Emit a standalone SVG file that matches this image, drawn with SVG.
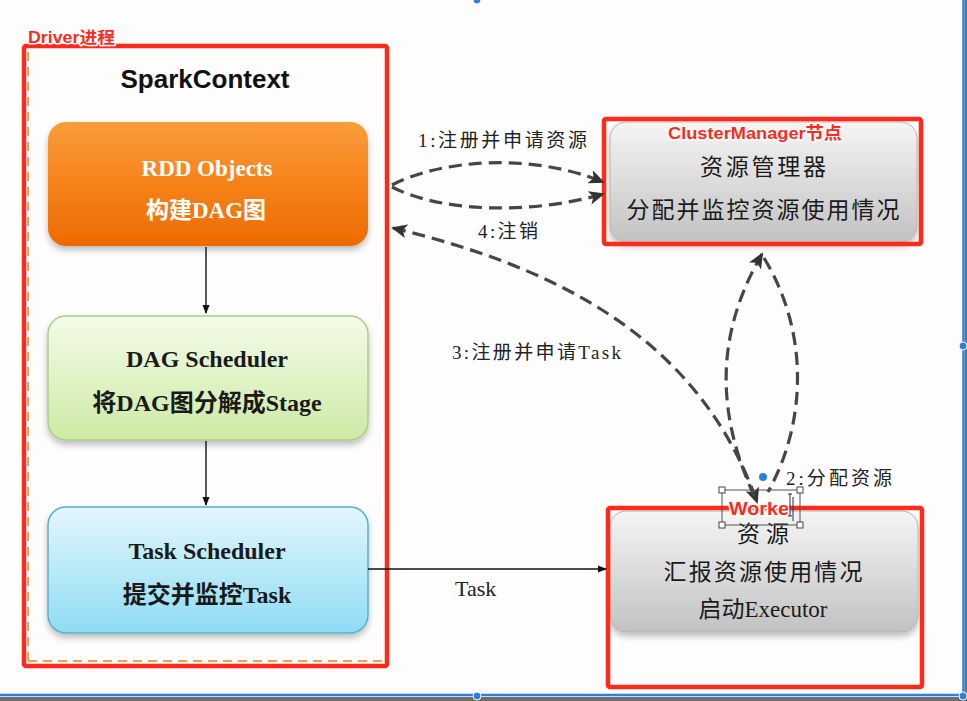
<svg xmlns="http://www.w3.org/2000/svg" width="967" height="701" viewBox="0 0 967 701">
<defs>
<style>
.cn{font-family:"Liberation Serif","Noto Sans CJK SC",serif;fill:#1a1a1a}
.bold{font-weight:bold}
.red{font-family:"Liberation Sans","Noto Sans CJK SC",sans-serif;font-weight:bold;fill:#ff2a1a;stroke:#fff;stroke-width:3;paint-order:stroke;stroke-linejoin:round}
.redbox{fill:none;stroke:#ff2a1a;stroke-width:4.5}
.dash{fill:none;stroke:#464646;stroke-width:3.2;stroke-dasharray:13 7}
.solid{fill:none;stroke:#111;stroke-width:1.4}
.lbl{font-family:"Liberation Serif","Noto Sans CJK SC",serif;font-size:19px;fill:#222}
</style>
<linearGradient id="gOrange" x1="0" y1="0" x2="0" y2="1">
<stop offset="0" stop-color="#fb9d3c"/><stop offset="0.5" stop-color="#f6821a"/><stop offset="1" stop-color="#ee6a00"/>
</linearGradient>
<linearGradient id="gGreen" x1="0" y1="0" x2="0" y2="1">
<stop offset="0" stop-color="#f4fbea"/><stop offset="1" stop-color="#cdeaa4"/>
</linearGradient>
<linearGradient id="gBlue" x1="0" y1="0" x2="0" y2="1">
<stop offset="0" stop-color="#e4f6fc"/><stop offset="1" stop-color="#8edcf4"/>
</linearGradient>
<linearGradient id="gGray" x1="0" y1="0" x2="0" y2="1">
<stop offset="0" stop-color="#f5f5f5"/><stop offset="1" stop-color="#c2c2c2"/>
</linearGradient>
<filter id="shadow" x="-10%" y="-10%" width="120%" height="130%">
<feDropShadow dx="0" dy="4" stdDeviation="3" flood-color="#000" flood-opacity="0.25"/>
</filter>
<marker id="bigArrow" viewBox="0 0 16 14" refX="14" refY="7" markerWidth="16" markerHeight="14" markerUnits="userSpaceOnUse" orient="auto-start-reverse">
<path d="M0,0 L16,7 L0,14 L4,7 Z" fill="#333"/>
</marker>
<marker id="smallArrow" viewBox="0 0 10 10" refX="9" refY="5" markerWidth="9" markerHeight="9" markerUnits="userSpaceOnUse" orient="auto">
<path d="M0,1 L10,5 L0,9 Z" fill="#111"/>
</marker>
</defs>

<rect x="0" y="0" width="967" height="701" fill="#fdfdfd"/>

<!-- Driver process -->
<g id="driver">
<line x1="28" y1="52" x2="28" y2="661" stroke="#f0a050" stroke-width="2" stroke-dasharray="9 6"/>
<line x1="28" y1="661" x2="384" y2="661" stroke="#f0a050" stroke-width="2" stroke-dasharray="9 6"/>
<rect class="redbox" x="24" y="46" width="363" height="620" rx="2"/>
<text class="red" x="28" y="43" font-size="16" textLength="87" lengthAdjust="spacingAndGlyphs">Driver进程</text>
<text x="205" y="88" text-anchor="middle" font-family="Liberation Sans, Arial, sans-serif" font-weight="bold" font-size="26" fill="#111">SparkContext</text>
</g>

<g id="rdd">
<rect x="48" y="122" width="320" height="124" rx="18" fill="url(#gOrange)" filter="url(#shadow)"/>
<text class="cn bold" x="207" y="176" text-anchor="middle" font-size="23" fill="#fff" style="fill:#fff">RDD Objects</text>
<text class="cn bold" x="206" y="218" text-anchor="middle" font-size="23" style="fill:#fff">构建DAG图</text>
</g>

<g id="dagScheduler">
<rect x="48" y="316" width="320" height="124" rx="18" fill="url(#gGreen)" stroke="#a8cf86" stroke-width="1.5" filter="url(#shadow)"/>
<text class="cn bold" x="207" y="367" text-anchor="middle" font-size="24">DAG Scheduler</text>
<text class="cn bold" x="207" y="411" text-anchor="middle" font-size="24">将DAG图分解成Stage</text>
</g>

<g id="taskScheduler">
<rect x="48" y="507" width="320" height="126" rx="18" fill="url(#gBlue)" stroke="#5aaec8" stroke-width="1.5" filter="url(#shadow)"/>
<text class="cn bold" x="207" y="559" text-anchor="middle" font-size="24">Task Scheduler</text>
<text class="cn bold" x="207" y="603" text-anchor="middle" font-size="24">提交并监控Task</text>
</g>

<g id="clusterManager">
<rect x="610" y="122" width="307" height="120" rx="16" fill="url(#gGray)" stroke="#b5b5b5" stroke-width="1" filter="url(#shadow)"/>
<rect class="redbox" x="604" y="119" width="317" height="125" rx="2"/>
<text class="red" x="668" y="139" font-size="17" textLength="174" lengthAdjust="spacingAndGlyphs">ClusterManager节点</text>
<text class="cn" x="763" y="175" text-anchor="middle" font-size="23" textLength="126" lengthAdjust="spacing">资源管理器</text>
<text class="cn" x="763" y="218" text-anchor="middle" font-size="23" textLength="273" lengthAdjust="spacing">分配并监控资源使用情况</text>
</g>

<g id="worker">
<rect x="610" y="511" width="308" height="121" rx="16" fill="url(#gGray)" stroke="#b5b5b5" stroke-width="1" filter="url(#shadow)"/>
<rect class="redbox" x="608" y="508" width="314" height="179" rx="2"/>
<text class="cn" x="763" y="542" text-anchor="middle" font-size="23" textLength="52" lengthAdjust="spacing">资源</text>
<text class="cn" x="763" y="580" text-anchor="middle" font-size="23" textLength="199" lengthAdjust="spacing">汇报资源使用情况</text>
<text class="cn" x="763" y="617" text-anchor="middle" font-size="23">启动Executor</text>
<rect x="722" y="490" width="78" height="35" fill="none" stroke="#555" stroke-width="1"/>
<text class="red" x="729" y="515" font-size="18" textLength="60" lengthAdjust="spacingAndGlyphs">Worke</text>
<rect x="719" y="487" width="6" height="6" fill="#fff" stroke="#444" stroke-width="1"/>
<rect x="797" y="487" width="6" height="6" fill="#fff" stroke="#444" stroke-width="1"/>
<rect x="719" y="522" width="6" height="6" fill="#fff" stroke="#444" stroke-width="1"/>
<rect x="797" y="522" width="6" height="6" fill="#fff" stroke="#444" stroke-width="1"/>
<path d="M788,494 h4 M790,494 v22 M788,516 h4 M793,497 v24" stroke="#333" stroke-width="1" fill="none"/>
</g>

<g id="connectors">
<line class="solid" x1="206" y1="247" x2="206" y2="313" marker-end="url(#smallArrow)"/>
<line class="solid" x1="206" y1="441" x2="206" y2="505" marker-end="url(#smallArrow)"/>
<line class="solid" x1="368" y1="569" x2="606" y2="569" marker-end="url(#smallArrow)"/>
<path class="dash" d="M392,185 C440,160 530,152 603,182" marker-end="url(#bigArrow)"/>
<path class="dash" d="M392,187 C440,212 530,215 603,194" marker-end="url(#bigArrow)"/>
<path class="dash" d="M393,228 C560,268 700,340 757,502" marker-start="url(#bigArrow)" marker-end="url(#bigArrow)"/>
<path class="dash" d="M762,254 C712,340 718,420 757,502" marker-start="url(#bigArrow)"/>
<path class="dash" d="M764,258 C808,330 808,420 768,492"/>
</g>

<g id="labels">
<text class="lbl" x="418" y="147" textLength="169" lengthAdjust="spacing">1:注册并申请资源</text>
<text class="lbl" x="478" y="238" textLength="60" lengthAdjust="spacing">4:注销</text>
<text class="lbl" x="452" y="359" textLength="169" lengthAdjust="spacing">3:注册并申请Task</text>
<text class="lbl" x="786" y="485" textLength="106" lengthAdjust="spacing">2:分配资源</text>
<text class="lbl" x="455" y="596" font-size="22" style="font-size:22px">Task</text>
</g>

<g id="selection">
<line x1="0" y1="695" x2="964" y2="695" stroke="#2f7fe0" stroke-width="2.5"/>
<rect x="0" y="697" width="967" height="4" fill="#6e6e6e"/>
<line x1="963.5" y1="0" x2="963.5" y2="696" stroke="#2f7fe0" stroke-width="2.5"/>
<rect x="965" y="0" width="2" height="701" fill="#6e6e6e"/>
<circle cx="963" cy="346" r="4" fill="#2f7fe0" stroke="#fff" stroke-width="1"/>
<circle cx="477" cy="696" r="4" fill="#2f7fe0" stroke="#fff" stroke-width="1"/>
<circle cx="963" cy="696" r="4" fill="#2f7fe0" stroke="#fff" stroke-width="1"/>
<circle cx="477" cy="0" r="4" fill="#2f7fe0" stroke="#fff" stroke-width="1"/>
<circle cx="763" cy="477" r="4" fill="#2f7fe0"/>
</g>
</svg>
